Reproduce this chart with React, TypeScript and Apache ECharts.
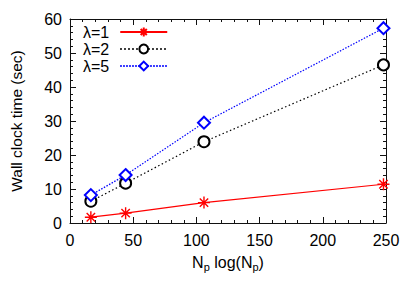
import React, { useEffect, useRef } from "react";
import * as echarts from "echarts";

const xValues = [16.5, 44, 106, 248];
const lambda1 = [1.7, 2.9, 6.0, 11.4];
const lambda2 = [6.4, 11.7, 23.9, 46.5];
const lambda5 = [8.2, 14.1, 29.5, 57.3];
const seriesNames = ["λ=1", "λ=2", "λ=5"];

const FONT = "Liberation Sans, Arial, Helvetica, sans-serif";
const asterisk =
  "path://M0,5L10,5M5,0L5,10M1.5,1.5L8.5,8.5M8.5,1.5L1.5,8.5";

export default function App() {
  const ref = useRef<HTMLDivElement>(null);
  useEffect(() => {
    if (!ref.current) return;
    const chart = echarts.init(ref.current, null, { renderer: "svg" });
    const pair = (ys: number[]) => xValues.map((x, i) => [x, ys[i]]);
    const axisCommon = {
      axisLine: { show: true, onZero: false, lineStyle: { color: "#111", width: 1 } },
      axisTick: { show: true, inside: true, length: 6, lineStyle: { color: "#111" } },
      minorTick: { show: true, splitNumber: 5, length: 3, lineStyle: { color: "#111" } },
      splitLine: { show: false },
    };
    chart.setOption({
      animation: false,
      grid: { left: 70, right: 29, top: 19, bottom: 68 },
      legend: {
        orient: "vertical",
        left: 78,
        top: 19,
        align: "right",
        itemWidth: 47,
        itemHeight: 11,
        itemGap: 1,
        data: seriesNames,
        textStyle: { fontFamily: FONT, fontSize: 16, color: "#000", padding: [0, 6, 0, 0] },
      },
      xAxis: [
        {
          type: "value",
          min: 0,
          max: 250,
          interval: 50,
          ...axisCommon,
          axisLabel: { fontFamily: FONT, fontSize: 16, color: "#000", margin: 9 },
          name: "N{sub|p} log(N{sub|p})",
          nameLocation: "middle",
          nameGap: 29,
          nameTextStyle: {
            fontFamily: FONT,
            fontSize: 16,
            color: "#000",
            rich: { sub: { fontFamily: FONT, fontSize: 11, color: "#000", verticalAlign: "bottom", padding: [9, 0, 0, 0] } },
          },
        },
        {
          type: "value",
          position: "top",
          min: 0,
          max: 250,
          interval: 50,
          ...axisCommon,
          axisLabel: { show: false },
        },
      ],
      yAxis: [
        {
          type: "value",
          min: 0,
          max: 60,
          interval: 10,
          ...axisCommon,
          axisLabel: { fontFamily: FONT, fontSize: 16, color: "#000", margin: 8 },
          name: "Wall clock time (sec)",
          nameLocation: "middle",
          nameGap: 46,
          nameTextStyle: { fontFamily: FONT, fontSize: 15.5, color: "#000" },
        },
        {
          type: "value",
          position: "right",
          min: 0,
          max: 60,
          interval: 10,
          ...axisCommon,
          axisLabel: { show: false },
        },
      ],
      series: [
        {
          name: seriesNames[0],
          type: "line",
          data: pair(lambda1),
          symbol: asterisk,
          symbolSize: 12,
          lineStyle: { color: "#ff0000", width: 1.2, type: "solid" },
          itemStyle: { color: "#ff0000", borderColor: "#ff0000", borderWidth: 1.4 },
        },
        {
          name: seriesNames[1],
          type: "line",
          data: pair(lambda2),
          symbol: "emptyCircle",
          symbolSize: 11,
          lineStyle: { color: "#000", width: 1.2, type: [1.5, 2.5] },
          itemStyle: { color: "#000", borderColor: "#000", borderWidth: 1 },
        },
        {
          name: seriesNames[2],
          type: "line",
          data: pair(lambda5),
          symbol: "emptyDiamond",
          symbolSize: 12,
          lineStyle: { color: "#0000ff", width: 1.2, type: [1.5, 1.5] },
          itemStyle: { color: "#0000ff", borderColor: "#0000ff", borderWidth: 1.2 },
        },
      ],
    });
    return () => chart.dispose();
  }, []);
  return <div ref={ref} style={{ width: 415, height: 291, margin: -8 }} />;
}
